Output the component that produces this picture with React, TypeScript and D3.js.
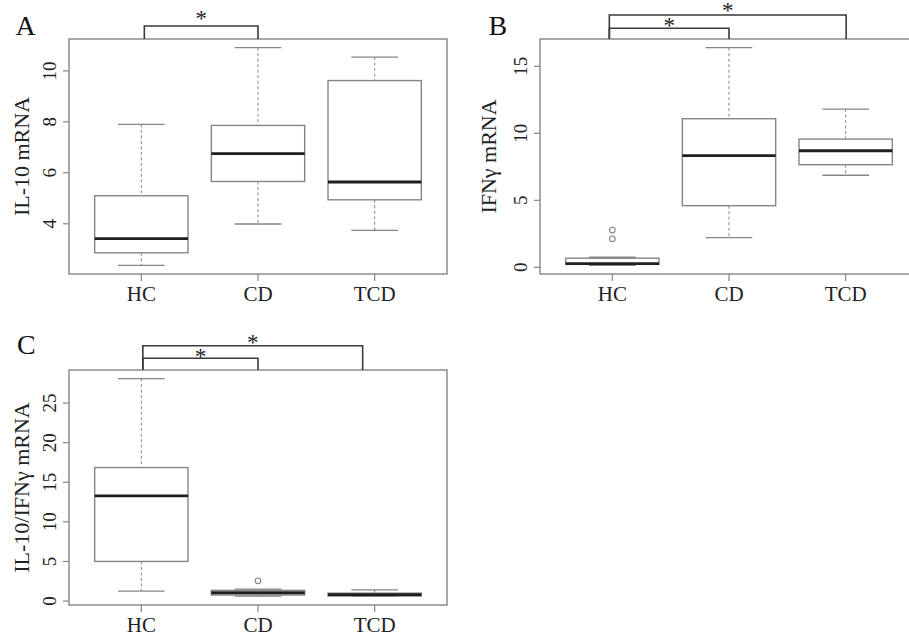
import * as d3 from 'd3';
import React from 'react';

// groups on the x axis
const groups = ['HC', 'CD', 'TCD'];

// box stats per group: [lower whisker, Q1, median, Q3, upper whisker]
const il10Stats = [
  [2.37, 2.86, 3.42, 5.1, 7.9],
  [3.99, 5.66, 6.75, 7.86, 10.91],
  [3.74, 4.94, 5.64, 9.62, 10.54],
];
const il10Outliers = [[], [], []];

const ifngStats = [
  [0.15, 0.22, 0.28, 0.68, 0.75],
  [2.21, 4.6, 8.33, 11.09, 16.39],
  [6.87, 7.66, 8.7, 9.57, 11.81],
];
const ifngOutliers = [[2.78, 2.13], [], []];

const ratioStats = [
  [1.26, 5.0, 13.28, 16.86, 28.08],
  [0.63, 0.76, 1.05, 1.35, 1.51],
  [0.6, 0.63, 0.8, 1.0, 1.42],
];
const ratioOutliers = [[], [2.56], []];

// significant comparisons (group index pairs)
const il10Sig = [[0, 1]];
const ifngSig = [[0, 1], [0, 2]];
const ratioSig = [[0, 1], [0, 2]];

const FONT = '"Liberation Serif", "Times New Roman", "DejaVu Serif", serif';
const GRAY = '#858585';

const panels = [
  {
    letter: 'A', title: 'IL-10 mRNA',
    stats: il10Stats, outliers: il10Outliers, sig: il10Sig,
    frame: { left: 69, top: 39, right: 447, bottom: 274 },
    letterAt: [15.5, 34.5], titleGap: 40,
    bracketLayout: [{ rise: 13, star: 11, dx1: 3, dx2: 0 }],
  },
  {
    letter: 'B', title: 'IFNγ mRNA',
    stats: ifngStats, outliers: ifngOutliers, sig: ifngSig,
    frame: { left: 540, top: 39, right: 918, bottom: 274 },
    letterAt: [488.5, 35], titleGap: 44,
    bracketLayout: [
      { rise: 10.7, star: 6, dx1: -3, dx2: 0 },
      { rise: 24, star: 8, dx1: -3, dx2: 0.5 },
    ],
  },
  {
    letter: 'C', title: 'IL-10/IFNγ mRNA',
    stats: ratioStats, outliers: ratioOutliers, sig: ratioSig,
    frame: { left: 69, top: 370, right: 447, bottom: 605 },
    letterAt: [17, 354], titleGap: 40.5,
    bracketLayout: [
      { rise: 11.7, star: 5, dx1: 1.5, dx2: 0 },
      { rise: 24.3, star: 7, dx1: 1.5, dx2: -12 },
    ],
  },
];

const BoxPanel = ({ cfg }) => {
  const { left, top, right, bottom } = cfg.frame;
  const x = d3.scaleLinear().domain([0.38, groups.length + 0.62]).range([left, right]);
  const all = cfg.stats.flat().concat(cfg.outliers.flat());
  const [lo, hi] = d3.extent(all);
  const pad = (hi - lo) * 0.04;
  const y = d3.scaleLinear().domain([lo - pad, hi + pad]).range([bottom, top]);
  const bw = x(0.4) - x(0);
  const cw = x(0.2) - x(0);
  const midY = (top + bottom) / 2;

  return (
    <g>
      <text x={cfg.letterAt[0]} y={cfg.letterAt[1]} fontSize={28} fontFamily={FONT} fill="#111">
        {cfg.letter}
      </text>

      {/* y axis */}
      {y.ticks(5).map((t) => (
        <g key={t}>
          <line x1={left - 6} x2={left} y1={y(t)} y2={y(t)} stroke={GRAY} strokeWidth={1.2} />
          <text
            transform={`translate(${left - 13},${y(t)}) rotate(-90)`}
            textAnchor="middle" fontSize={19} fontFamily={FONT} fill="#222"
          >
            {t}
          </text>
        </g>
      ))}
      <text
        transform={`translate(${left - cfg.titleGap},${midY}) rotate(-90)`}
        textAnchor="middle" fontSize={22} fontFamily={FONT} fill="#222"
      >
        {cfg.title}
      </text>

      {/* x axis */}
      {groups.map((g, i) => (
        <g key={g}>
          <line x1={x(i + 1)} x2={x(i + 1)} y1={bottom} y2={bottom + 7} stroke={GRAY} strokeWidth={1.2} />
          <text x={x(i + 1)} y={bottom + 26.5} textAnchor="middle" fontSize={21} fontFamily={FONT} fill="#222">
            {g}
          </text>
        </g>
      ))}

      {/* boxes */}
      {cfg.stats.map((s, i) => {
        const cx = x(i + 1);
        const [wlo, q1, med, q3, whi] = s;
        return (
          <g key={i}>
            <line x1={cx} x2={cx} y1={y(whi)} y2={y(q3)} stroke={GRAY} strokeWidth={1} strokeDasharray="3,2.5" />
            <line x1={cx} x2={cx} y1={y(q1)} y2={y(wlo)} stroke={GRAY} strokeWidth={1} strokeDasharray="3,2.5" />
            <line x1={cx - cw} x2={cx + cw} y1={y(whi)} y2={y(whi)} stroke={GRAY} strokeWidth={1.3} />
            <line x1={cx - cw} x2={cx + cw} y1={y(wlo)} y2={y(wlo)} stroke={GRAY} strokeWidth={1.3} />
            <rect x={cx - bw} y={y(q3)} width={bw * 2} height={y(q1) - y(q3)} fill="white" stroke={GRAY} strokeWidth={1.4} />
            <line x1={cx - bw} x2={cx + bw} y1={y(med)} y2={y(med)} stroke="#1e1e1e" strokeWidth={2.8} />
            {cfg.outliers[i].map((o, k) => (
              <circle key={k} cx={cx} cy={y(o)} r={2.8} fill="none" stroke={GRAY} strokeWidth={1.1} />
            ))}
          </g>
        );
      })}

      {/* frame */}
      <rect x={left} y={top} width={right - left} height={bottom - top} fill="none" stroke={GRAY} strokeWidth={1.4} />

      {/* significance brackets */}
      {cfg.sig.map(([a, b], k) => {
        const L = cfg.bracketLayout[k];
        const x1 = x(a + 1) + L.dx1;
        const x2 = x(b + 1) + L.dx2;
        const yt = top - L.rise;
        return (
          <g key={k}>
            <path d={`M${x1},${top}V${yt}H${x2}V${top}`} fill="none" stroke="#3a3a3a" strokeWidth={1.6} />
            <text x={(x1 + x2) / 2} y={yt - L.star + 11} textAnchor="middle" fontSize={23} fontFamily={FONT} fill="#222">
              *
            </text>
          </g>
        );
      })}
    </g>
  );
};

export default function App() {
  return (
    <svg width={909} height={634} style={{ position: 'absolute', left: 0, top: 0, background: 'white' }}>
      {panels.map((p) => (
        <BoxPanel key={p.letter} cfg={p} />
      ))}
    </svg>
  );
}
